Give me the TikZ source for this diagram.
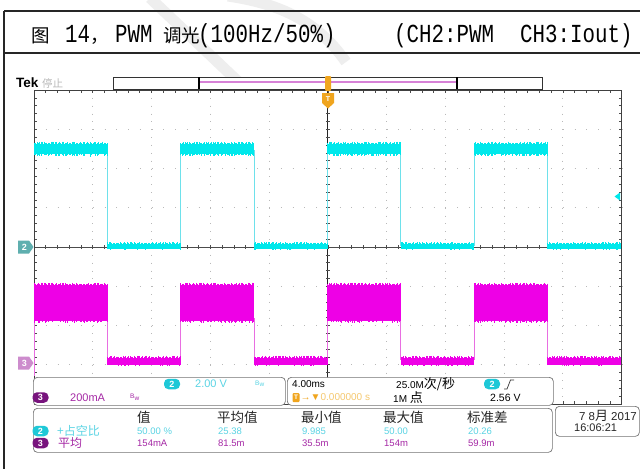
\documentclass[tikz,border=0pt]{standalone}
\usepackage{fontspec}
\setmainfont{Liberation Sans}
\newfontfamily\cjkfont{Noto Sans CJK SC}
\newfontfamily\ttlmono{Liberation Mono}
\newcommand{\zhtxt}[1]{{\cjkfont #1}}
\definecolor{cyanw}{RGB}{0,232,235}
\definecolor{cyanedge}{RGB}{110,225,235}
\definecolor{magw}{RGB}{238,0,230}
\definecolor{magedge}{RGB}{232,110,225}
\definecolor{cyanv}{RGB}{90,212,228}
\definecolor{magv}{RGB}{165,40,165}
\definecolor{cyanb}{RGB}{30,200,215}
\definecolor{purpb}{RGB}{120,20,125}
\definecolor{orangeT}{RGB}{240,165,30}
\definecolor{orangeL}{RGB}{245,200,110}
\definecolor{pinkln}{RGB}{215,130,215}
\definecolor{chtwomk}{RGB}{95,175,175}
\definecolor{chthreemk}{RGB}{205,140,205}
\begin{document}
\begin{tikzpicture}[x=1pt,y=-1pt,
  frame/.style={line width=1.1pt, black!85},
  ttlascii/.style={anchor=base west, inner sep=0pt, font=\fontsize{26}{26}\selectfont\ttlmono},
  ttlcjk/.style={anchor=base west, inner sep=0pt, font=\fontsize{18.5}{18.5}\selectfont\cjkfont},
  griddot/.style={gray!55, line width=0.9pt, dash pattern=on 0.9pt off 6.95pt},
  griddoth/.style={gray!55, line width=0.9pt, dash pattern=on 0.9pt off 10.85pt},
  axisln/.style={black!70, line width=0.6pt},
  scopetxt/.style={anchor=west, inner sep=0pt, font=\fontsize{9.5}{9.5}\selectfont},
  bigtxt/.style={anchor=west, inner sep=0pt, font=\fontsize{11}{11}\selectfont},
  hdrtxt/.style={anchor=west, inner sep=0pt, font=\fontsize{13.5}{13.5}\selectfont\cjkfont, text=black!85},
  badge/.style={rounded corners=4.5pt, minimum width=16pt, minimum height=10.5pt, inner sep=0pt, text=white, font=\fontsize{9}{9}\selectfont\bfseries},
  infobox/.style={draw=black!55, line width=0.7pt, fill=white, rounded corners=4pt, anchor=north west, inner sep=0pt},
  wm/.style={gray!13, line width=11pt},
  bwicon/.style={anchor=west, inner sep=0pt, font=\fontsize{6.5}{6.5}\selectfont},
]
\useasboundingbox (0,0) rectangle (640,469);
\fill[white] (0,0) rectangle (640,469);
% watermark
\begin{scope}
\clip (0,0) rectangle (640,76);
\draw[wm] (150,-2) -- (247,90);
\draw[wm] (228,-4) .. controls (282,4) and (318,22) .. (346,62);
\end{scope}
% frame
\draw[frame] (4,11) -- (640,11);
\draw[frame] (4,53) -- (640,53);
\draw[frame] (4,11) -- (4,469);
% title
\node[ttlcjk] (t1) at (31,42) {图};
\node[ttlascii] (t2) at (65,42) {\scalebox{0.8}[1]{14}};
\node[ttlcjk] (t3) at (90,42) {，};
\node[ttlascii] (t4) at (115,42) {\scalebox{0.8}[1]{PWM}};
\node[ttlcjk] (t5) at (163,42) {调光};
\node[ttlascii] (t6) at (198,42) {\scalebox{0.8}[1]{(100Hz/50\%)}};
\node[ttlascii] (t7) at (394,42) {\scalebox{0.8}[1]{(CH2:PWM}};
\node[ttlascii] (t8) at (520,42) {\scalebox{0.8}[1]{CH3:Iout)}};
% Tek label
\node[anchor=west, inner sep=0pt, font=\fontsize{13.5}{13.5}\selectfont\bfseries] (tek) at (16,83) {Tek};
\node[anchor=west, inner sep=0pt, font=\fontsize{10.5}{10.5}\selectfont\cjkfont, text=gray!55] (stop) at (42,83.5) {停止};
% record bar
\draw[black!80, line width=0.7pt, fill=white] (113,77) rectangle (542,89);
\draw[black, line width=1.3pt] (199,77) -- (199,89);
\draw[black, line width=1.3pt] (457,77) -- (457,89);
\draw[pinkln, line width=1.6pt] (200,82) -- (456,82);
% graticule
\foreach \i in {1,2,3,4,6,7,8,9} \draw[griddot] ({34+\i*58.77},90) -- ({34+\i*58.77},404);
\foreach \j in {1,2,3,5,6,7} \draw[griddoth] (34,{90+\j*39.25}) -- (621.7,{90+\j*39.25});
\draw[axisln] (34,247) -- (621.7,247);
\draw[black!85, line width=0.8pt] (327.85,90) -- (327.85,404);
\foreach \t in {1,...,49} {
  \draw[axisln] ({34+\t*11.754},245) -- ++(0,4);
  \draw[axisln] ({34+\t*11.754},90) -- ++(0,3);
  \draw[axisln] ({34+\t*11.754},404) -- ++(0,-3);
}
\foreach \t in {1,...,39} {
  \draw[axisln] (325.85,{90+\t*7.85}) -- ++(4,0);
  \draw[axisln] (34,{90+\t*7.85}) -- ++(3,0);
  \draw[axisln] (621.7,{90+\t*7.85}) -- ++(-3,0);
}
\draw[black!75, line width=0.9pt] (34,90) rectangle (621.7,404);
% waveforms
\pgfmathsetseed{7}
\foreach \k in {1,...,7} {
  \draw[cyanedge, line width=0.9pt] ({34+\k*73.37},150) -- ({34+\k*73.37},246);
  \draw[magedge, line width=0.9pt] ({34+\k*73.37},318) -- ({34+\k*73.37},360);
}
\draw[magedge, line width=0.9pt] (34.6,318) -- (34.6,376);
\foreach \k in {0,2,4,6} {
  \pgfmathsetmacro{\xa}{34+\k*73.37}
  \pgfmathsetmacro{\xb}{\xa+73.37}
  \pgfmathsetmacro{\xc}{\xb+73.37}
  \fill[cyanw] (\xa,143.5) rectangle (\xb,154);
  \fill[cyanw] (\xb,243.5) rectangle (\xc,248.5);
  \fill[magw] (\xa,284.5) rectangle (\xb,320.5);
  \fill[magw] (\xb,357.5) rectangle (\xc,364.5);
  \foreach \s in {0,1.4,...,72.8} {
    \draw[cyanw, line width=0.5pt] ({\xa+\s},{143.5-2*rnd}) -- ({\xa+\s},{154+2.5*rnd});
    \draw[magw, line width=0.5pt] ({\xa+\s},{284.5-1.8*rnd}) -- ({\xa+\s},{320.5+2.5*rnd});
    \draw[cyanw, line width=0.5pt] ({\xb+\s},{243.5-1.5*rnd}) -- ({\xb+\s},{248.5+1.2*rnd});
    \draw[magw, line width=0.5pt] ({\xb+\s},{357.5-1.8*rnd}) -- ({\xb+\s},{364.5+1.2*rnd});
  }
}
% trigger markers
\fill[orangeT, rounded corners=1pt] (325,76) rectangle (331,91);
\fill[orangeT] (322,93) -- (334,93) -- (334,103) -- (328,108.5) -- (322,103) -- cycle;
\node[text=white, inner sep=0pt, font=\fontsize{7}{7}\selectfont\bfseries] (trig) at (328,99.5) {T};
\fill[cyanw] (614.5,196.5) -- (620,192.5) -- (620,200.5) -- cycle;
% channel markers
\fill[chtwomk] (18,240.5) -- (29,240.5) -- (33.5,247) -- (29,253.5) -- (18,253.5) -- cycle;
\node[text=white, inner sep=0pt, font=\fontsize{9}{9}\selectfont\bfseries] (m2) at (24.5,247) {2};
\fill[chthreemk] (18,356.5) -- (29,356.5) -- (33.5,363) -- (29,369.5) -- (18,369.5) -- cycle;
\node[text=white, inner sep=0pt, font=\fontsize{9}{9}\selectfont\bfseries] (m3) at (24.5,363) {3};
% channel box
\node[infobox, minimum width=252pt, minimum height=28pt] (chbox) at (33,377) {};
\node[badge, fill=cyanb] (b2) at (172,384) {2};
\node[bigtxt, text=cyanv] (v2) at (195,384) {2.00 V};
\node[bwicon, text=cyanv] (bw2) at (255,384) {B\raisebox{-1.5pt}{w}};
\node[badge, fill=purpb] (b3) at (40.5,397.5) {3};
\node[bigtxt, text=magv] (v3) at (70,397.5) {200mA};
\node[bwicon, text=magv] (bw3) at (130,397.5) {B\raisebox{-1.5pt}{w}};
% timebase box
\node[infobox, minimum width=266pt, minimum height=28pt] (tbbox) at (287,377) {};
\node[scopetxt, font=\fontsize{10}{10}\selectfont] (tb) at (292,384) {4.00ms};
\node[scopetxt, font=\fontsize{10}{10}\selectfont] (sr) at (396,384) {25.0M{\fontsize{13}{13}\selectfont\cjkfont 次/秒}};
\node[badge, fill=cyanb] (tb2) at (492,384) {2};
\draw[black!80, line width=0.7pt] (504,389) -- (507,389) -- (510.5,380) -- (514,380);
\node[fill=orangeT, text=white, minimum width=7pt, minimum height=9pt, inner sep=0pt, rounded corners=1pt, font=\fontsize{6.5}{6.5}\selectfont\bfseries] (ti) at (296,397.5) {T};
\node[scopetxt, text=orangeT, font=\fontsize{10}{10}\selectfont] (tp) at (300.5,397.5) {→▼\textcolor{orangeL}{0.000000 s}};
\node[scopetxt, font=\fontsize{10}{10}\selectfont] (pts) at (393,398) {1M {\fontsize{13}{13}\selectfont\cjkfont 点}};
\node[scopetxt, font=\fontsize{10.5}{10.5}\selectfont] (lvl) at (490,397.5) {2.56 V};
% measurement box
\node[infobox, minimum width=519pt, minimum height=44pt] (msbox) at (33,408) {};
\node[hdrtxt] (h1) at (137,417) {值};
\node[hdrtxt] (h2) at (217,417) {平均值};
\node[hdrtxt] (h3) at (301,417) {最小值};
\node[hdrtxt] (h4) at (383,417) {最大值};
\node[hdrtxt] (h5) at (467,417) {标准差};
\node[badge, fill=cyanb] (r2b) at (40.5,431) {2};
\node[scopetxt, text=cyanv, font=\fontsize{12}{12}\selectfont\cjkfont] (r2n) at (57,431) {+占空比};
\node[scopetxt, text=cyanv] (r2a) at (137,431) {50.00 \%};
\node[scopetxt, text=cyanv] (r2c) at (218,431) {25.38};
\node[scopetxt, text=cyanv] (r2d) at (302,431) {9.985};
\node[scopetxt, text=cyanv] (r2e) at (384,431) {50.00};
\node[scopetxt, text=cyanv] (r2f) at (468,431) {20.26};
\node[badge, fill=purpb] (r3b) at (40.5,443) {3};
\node[scopetxt, text=magv, font=\fontsize{12}{12}\selectfont\cjkfont] (r3n) at (58,443) {平均};
\node[scopetxt, text=magv] (r3a) at (137,443) {154mA};
\node[scopetxt, text=magv] (r3c) at (218,443) {81.5m};
\node[scopetxt, text=magv] (r3d) at (302,443) {35.5m};
\node[scopetxt, text=magv] (r3e) at (384,443) {154m};
\node[scopetxt, text=magv] (r3f) at (468,443) {59.9m};
% date box
\node[infobox, minimum width=84pt, minimum height=30pt] (dtbox) at (555,406) {};
\node[anchor=east, inner sep=0pt, font=\fontsize{11.5}{11.5}\selectfont, text=black!85] (dt1) at (637,415.5) {7 8{\fontsize{13}{13}\selectfont\cjkfont 月} 2017};
\node[scopetxt, text=black!85, font=\fontsize{11}{11}\selectfont] (dt2) at (574,428) {16:06:21};
\end{tikzpicture}
\end{document}
